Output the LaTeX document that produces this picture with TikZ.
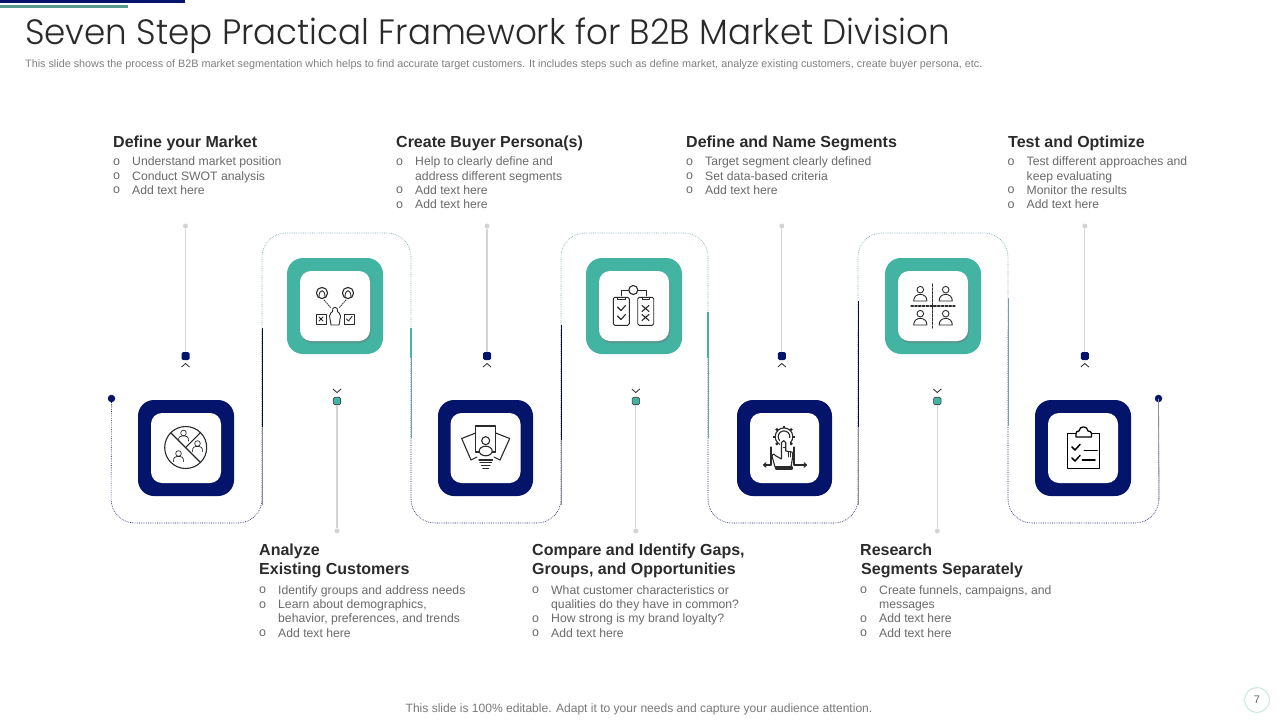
\documentclass[tikz,border=0pt]{standalone}
\usepackage{fontspec}
\setmainfont{Liberation Sans}
\newfontfamily\titlefont[FakeStretch=0.97]{Poppins Light}
\usetikzlibrary{shadows}
\definecolor{navy}{HTML}{04146B}
\definecolor{tealbox}{HTML}{43B3A2}
\definecolor{tealshade}{HTML}{5F8F88}
\definecolor{txt}{HTML}{6A6A6A}
\definecolor{head}{HTML}{2B2B2B}
\definecolor{stem}{HTML}{D4D4D4}
\definecolor{ink}{HTML}{2A2A2A}
\definecolor{upperline}{HTML}{6FA3A5}
\definecolor{grayline}{HTML}{8A8D96}
\tikzset{
  x=1pt,y=-1pt,
  navybox/.style={draw=none,fill=navy,rounded corners=16pt,minimum width=96pt,minimum height=96pt,inner sep=0pt},
  tealouter/.style={draw=none,fill=tealbox,rounded corners=16pt,minimum width=96pt,minimum height=96pt,inner sep=0pt},
  whitebox/.style={draw=none,fill=white,rounded corners=11pt,minimum width=70pt,minimum height=70pt,inner sep=0pt},
  whiteshade/.style={whitebox,drop shadow={shadow xshift=1pt,shadow yshift=-2pt,fill=tealshade,opacity=.8}},
  headline/.style={anchor=north west,inner sep=0pt,align=left,text=head,font=\fontsize{16}{19}\selectfont\bfseries},
  listblock/.style={anchor=north west,inner sep=0pt,text=txt,font=\fontsize{12.2}{14.3}\selectfont},
  stemline/.style={draw=stem,line width=1.1pt},
  stemend/.style={circle,fill=stem,draw=none,minimum size=5pt,inner sep=0pt},
  navysq/.style={rectangle,rounded corners=1.5pt,fill=navy,draw=none,minimum size=8pt,inner sep=0pt},
  tealsq/.style={rectangle,rounded corners=1.5pt,fill=tealbox,draw=black!80,line width=.6pt,minimum size=7.5pt,inner sep=0pt},
  enddot/.style={circle,fill=navy,draw=none,minimum size=7.5pt,inner sep=0pt},
  chev/.style={draw=ink,line width=.8pt},
  lowdot/.style={draw=navy!85!black,line width=.6pt,dash pattern=on .7pt off 1.1pt,rounded corners=24pt},
  updot/.style={draw=upperline,line width=.6pt,dash pattern=on .7pt off 1.1pt,rounded corners=24pt},
  solidnavy/.style={draw=navy!60!black,line width=1pt},
  solidgray/.style={draw=grayline,line width=.8pt},
  solidteal/.style={draw=upperline,line width=.8pt},
  solidtealb/.style={draw=tealbox,line width=1.4pt},
  ico/.style={draw=ink,line width=1.1pt,line join=round,line cap=round,fill=none},
  icofine/.style={draw=ink,line width=.9pt,line join=round,line cap=round,fill=none},
}
\newcommand{\bl}{\raisebox{.4pt}{\fontsize{12.5}{12}\selectfont o}}
\newenvironment{blist}{\begin{tabular}{@{}p{19pt}@{}l@{}}}{\end{tabular}}
\newcommand{\dome}[2]{\begin{scope}[shift={(#1,#2)}]
  \draw[icofine] (0,-6.3) circle (3.3);
  \draw[icofine] (-6.6,5) .. controls (-7,-3.8) and (7,-3.8) .. (6.6,5) -- cycle;
\end{scope}}
\newcommand{\bust}[2]{\begin{scope}[shift={(#1,#2)}]
  \draw[icofine,line width=.7pt] (0,-3) circle (2.8);
  \draw[icofine,line width=.7pt] (-5,5) .. controls (-5,0) and (-3,.5) .. (-1.5,0) -- (1.5,0) .. controls (3,.5) and (5,0) .. (5,5);
\end{scope}}
\begin{document}
\begin{tikzpicture}
\useasboundingbox (0,0) rectangle (1280,720);
\fill[white] (0,0) rectangle (1280,720);
% top bars
\fill[navy] (0,0) rectangle (185,3);
\fill[tealshade!70!tealbox] (0,5) rectangle (128,7.5);
% title
\node[anchor=base west,inner sep=0pt,text=ink,font=\fontsize{35.2}{40}\titlefont] (title) at (25,44) {Seven Step Practical Framework for B2B Market Division};
\node[anchor=base west,inner sep=0pt,text=txt!85,font=\fontsize{10.8}{12}\selectfont] (sub) at (25,67.5) {This slide shows the process of  B2B market segmentation which helps to find accurate target customers. It includes steps such as define market,  analyze existing customers, create buyer persona, etc.};
% footer
\node[anchor=base,inner sep=0pt,text=txt!90,font=\fontsize{12.05}{14}\selectfont] (foot) at (639,712.5) {This slide is 100\% editable. Adapt it to your  needs and capture your audience attention.};
\node[circle,draw=tealbox!30,line width=1pt,minimum size=25pt,inner sep=0pt,text=txt,font=\fontsize{11}{12}\selectfont] (pg) at (1257,700) {7};

% serpentine track
\node[enddot] (startdot) at (111.5,398.5) {};
\node[enddot] (enddot) at (1158.5,398.5) {};
\coordinate (b1a) at (111,523); \coordinate (b1b) at (262,523);
\coordinate (j1) at (262,330);
\coordinate (t1a) at (262,233); \coordinate (t1b) at (411,233);
\coordinate (j2) at (411,330);
\coordinate (b2a) at (411,523); \coordinate (b2b) at (561,523);
\coordinate (j3) at (561,330);
\coordinate (t2a) at (561,233); \coordinate (t2b) at (708,233);
\coordinate (j4) at (708,330);
\coordinate (b3a) at (708,523); \coordinate (b3b) at (858,523);
\coordinate (j5) at (858,330);
\coordinate (t3a) at (858,233); \coordinate (t3b) at (1008,233);
\coordinate (j6) at (1008,330);
\coordinate (b4a) at (1008,523); \coordinate (b4b) at (1159,523);
\draw[lowdot] (startdot.center) -- (b1a) -- (b1b) -- (j1);
\draw[updot] (j1) -- (t1a) -- (t1b) -- (j2);
\draw[lowdot] (j2) -- (b2a) -- (b2b) -- (j3);
\draw[updot] (j3) -- (t2a) -- (t2b) -- (j4);
\draw[lowdot] (j4) -- (b3a) -- (b3b) -- (j5);
\draw[updot] (j5) -- (t3a) -- (t3b) -- (j6);
\draw[lowdot] (j6) -- (b4a) -- (b4b) -- (enddot.center);
% solid overlays
\coordinate (s1) at (262,328); \coordinate (s2) at (262,427); \coordinate (s3) at (262,505);
\draw[solidnavy] (s1) -- (s2); \draw[solidgray] (s2) -- (s3);
\coordinate (s4) at (411,328); \coordinate (s5) at (411,358); \coordinate (s6) at (411,438);
\draw[solidtealb] (s4) -- (s5); \draw[solidteal] (s5) -- (s6);
\coordinate (s7) at (561,325); \coordinate (s8) at (561,440); \coordinate (s9) at (561,505);
\draw[solidnavy] (s7) -- (s8); \draw[solidgray] (s8) -- (s9);
\coordinate (s10) at (708,312); \coordinate (s11) at (708,358); \coordinate (s12) at (708,438);
\draw[solidtealb] (s10) -- (s11); \draw[solidteal] (s11) -- (s12);
\coordinate (s13) at (858,301); \coordinate (s14) at (858,427); \coordinate (s15) at (858,505);
\draw[solidnavy] (s13) -- (s14); \draw[solidgray] (s14) -- (s15);
\coordinate (s16) at (1008,298); \coordinate (s17) at (1008,426);
\draw[solidteal] (s16) -- (s17);
\coordinate (s18) at (1159,500);
\draw[solidgray] (enddot.center) -- (s18);

% stems up
\node[stemend] (u1e) at (185.5,226) {}; \node[navysq] (u1s) at (185.5,356) {};
\node[stemend] (u2e) at (487,226) {}; \node[navysq] (u2s) at (487,356) {};
\node[stemend] (u3e) at (781.8,226) {}; \node[navysq] (u3s) at (781.8,356) {};
\node[stemend] (u4e) at (1084.8,226) {}; \node[navysq] (u4s) at (1084.8,356) {};
\draw[stemline] (u1e) -- (u1s); \draw[stemline] (u2e) -- (u2s); \draw[stemline] (u3e) -- (u3s); \draw[stemline] (u4e) -- (u4s);
\foreach \n in {u1s,u2s,u3s,u4s}{ \draw[chev] ([xshift=-4pt,yshift=-11pt]\n.center) -- ([yshift=-7.5pt]\n.center) -- ([xshift=4pt,yshift=-11pt]\n.center); }
% stems down
\node[stemend] (d1e) at (337,531) {}; \node[tealsq] (d1s) at (337,401) {};
\node[stemend] (d2e) at (635.8,531) {}; \node[tealsq] (d2s) at (635.8,401) {};
\node[stemend] (d3e) at (937.3,531) {}; \node[tealsq] (d3s) at (937.3,401) {};
\draw[stemline] (d1e) -- (d1s); \draw[stemline] (d2e) -- (d2s); \draw[stemline] (d3e) -- (d3s);
\foreach \n in {d1s,d2s,d3s}{ \draw[chev] ([xshift=-4pt,yshift=12pt]\n.center) -- ([yshift=8.5pt]\n.center) -- ([xshift=4pt,yshift=12pt]\n.center); }

% boxes
\node[navybox] (n1) at (186,448) {}; \node[whitebox] (w1) at (186,448) {};
\node[tealouter] (n2) at (335,306) {}; \node[whiteshade] (w2) at (335,306) {};
\node[navybox,minimum width=95pt] (n3) at (485.5,448) {}; \node[whitebox] (w3) at (485.5,448) {};
\node[tealouter] (n4) at (634,306) {}; \node[whiteshade] (w4) at (634,306) {};
\node[navybox,minimum width=95pt] (n5) at (784.5,448) {}; \node[whitebox,minimum width=69pt] (w5) at (784.5,448) {};
\node[tealouter] (n6) at (933,306) {}; \node[whiteshade] (w6) at (933,306) {};
\node[navybox] (n7) at (1083,448) {}; \node[whitebox] (w7) at (1083,448) {};

% icon 1
\draw[ico] (185.7,447.5) circle (21);
\draw[ico] (171,433) -- (200.5,462.5);
\draw[ico] (185.7,447.5) -- (200.5,432.5);
\bust{183.5}{436}\bust{197.5}{446.5}\bust{178.5}{456.5}
% icon 2
\draw[ico] (322,293) circle (5.6); \draw[ico] (348,293) circle (5.6);
\draw[icofine] (319,297) .. controls (319,288.5) and (325,288.5) .. (325,297);
\draw[icofine] (345,297) .. controls (345,288.5) and (351,288.5) .. (351,297);
\draw[icofine,dash pattern=on 1pt off 1.2pt] (324,300) -- (331,308); \draw[icofine,dash pattern=on 1pt off 1.2pt] (346,300) -- (339,308);
\draw[icofine] (331,325) -- (329.5,316) .. controls (329.5,313) and (332,312.5) .. (332.5,311.5) .. controls (331,306) and (339,306) .. (337.5,311.5) .. controls (338,312.5) and (340.5,313) .. (340.5,316) -- (339,325) -- cycle;
\draw[icofine] (316,314) rectangle (326,324); \draw[icofine] (344,314) rectangle (354,324);
\draw[icofine] (319,317) -- (323,321) (323,317) -- (319,321);
\draw[icofine] (346.5,319) -- (348.5,321) -- (352,316.5);
% icon 3
\draw[ico] (475.7,426) rectangle (495.7,452);
\draw[ico] (475.7,433) -- (461.7,438.5) -- (471,460) -- (477,457);
\draw[ico] (495.7,433) -- (509.7,438.5) -- (500,460) -- (494,457);
\draw[ico] (485.7,440.7) circle (4);
\draw[ico,fill=white] (485.7,451) ellipse (6.5 and 4.8);
\draw[ico] (479,460) -- (492.5,460); \draw[ico] (480,462.5) -- (491.5,462.5); \draw[ico] (481.5,465.2) -- (490,465.2); \draw[ico] (483,468.3) -- (488.5,468.3);
% icon 4
\draw[ico] (633.3,290) circle (4.5);
\draw[icofine] (621.3,296) -- (621.3,290) -- (628.8,290) (637.8,290) -- (646,290) -- (646,296);
\draw[icofine,rounded corners=1.5pt] (613.3,297.3) rectangle (629.3,325.3);
\draw[icofine,rounded corners=1.5pt] (637.7,297.3) rectangle (653.7,325.3);
\draw[icofine] (617.5,297.3) -- (617.5,299.5) -- (625,299.5) -- (625,297.3);
\draw[icofine] (642,297.3) -- (642,299.5) -- (649.5,299.5) -- (649.5,297.3);
\draw[ico] (617.5,307) -- (621,310.5) -- (625.5,305.5);
\draw[ico] (617.5,316) -- (621,319.5) -- (625.5,314.5);
\draw[ico] (642,305.5) -- (649,311.5) (649,305.5) -- (642,311.5);
\draw[ico] (642,314.5) -- (649,320.5) (649,314.5) -- (642,320.5);
% icon 5
\foreach \a in {0,45,...,315}{ \draw[ico,line width=2.4pt,line cap=butt] (784,436.7) ++(\a:8.6) -- ++(\a:2.6); }
\draw[ico] (784,436.7) circle (8.8);
\draw[ico] (784,436.7) circle (5.8);
\draw[draw=white,fill=white] (780,438) rectangle (789,446);
\draw[ico] (775,467) -- (772,456) .. controls (773,453) and (775,454) .. (776,456) -- (781.5,459) -- (781.5,442.5) .. controls (782,440) and (785.5,440) .. (785.7,442.5) -- (785.7,451) -- (792,452) .. controls (793,452) and (793,455) .. (792.5,458) -- (791,467) -- cycle;
\draw[icofine] (788,451.5) -- (788,457) (790.5,452) -- (790.5,457);
\draw[ico,fill=ink!60] (776,467) rectangle (792,469);
\draw[ico] (771,447) -- (771,465) -- (764,465);
\draw[ico] (794,447) -- (794,465) -- (806,465);
\draw[ico] (766,462.8) -- (763.5,465) -- (766,467.2);
\draw[ico] (804,462.8) -- (806.5,465) -- (804,467.2);
% icon 6
\draw[icofine,dash pattern=on 2.4pt off 1.4pt,line width=1.1pt] (932.7,284) -- (932.7,328);
\draw[icofine,dash pattern=on 2.4pt off 1.4pt,line width=1.1pt] (911,306) -- (955,306);
\fill[ink] (932.7,306) circle (1.4);
\dome{920.3}{296}\dome{945.7}{296}\dome{920.3}{320}\dome{945.7}{320}
% icon 7
\draw[ico,line width=1.5pt,draw=black] (1067.3,433.5) rectangle (1099.7,468.3);
\draw[ico,line width=1.3pt,draw=black,fill=white] (1076,437) -- (1076,433.5) .. controls (1076,431.5) and (1077.5,431) .. (1079,431) .. controls (1079.5,425.5) and (1087.5,425.5) .. (1088,431) .. controls (1090,431) and (1091.5,432) .. (1091.5,433.5) -- (1091.5,437) -- cycle;
\draw[ico,line width=1.5pt,draw=black] (1072,447) -- (1075,450) -- (1080,444.5);
\draw[ico,line width=1.5pt,draw=black] (1072,458) -- (1075,461) -- (1080,455.5);
\draw[ico,line width=1.5pt,draw=black] (1084.3,450.7) -- (1097.3,450.7);
\draw[ico,line width=1.5pt,draw=black] (1082.3,460) -- (1095,460);

% upper labels
\node[headline] (h1) at (113,136) {Define your Market};
\node[listblock] (l1) at (113,155.5) {\begin{blist}\bl & Understand market position\\ \bl & Conduct SWOT analysis\\ \bl & Add text here\end{blist}};
\node[headline] (h2) at (396,136) {Create Buyer Persona(s)};
\node[listblock] (l2) at (396,155.5) {\begin{blist}\bl & Help to clearly define and\\ & address different segments\\ \bl & Add text here\\ \bl & Add text here\end{blist}};
\node[headline] (h3) at (686,136) {Define and Name Segments};
\node[listblock] (l3) at (686,155.5) {\begin{blist}\bl & Target segment clearly defined\\ \bl & Set data-based criteria\\ \bl & Add text here\end{blist}};
\node[headline] (h4) at (1008,136) {Test and Optimize};
\node[listblock] (l4) at (1007.5,155.5) {\begin{blist}\bl & Test different approaches and\\ & keep evaluating\\ \bl & Monitor the results\\ \bl & Add text here\end{blist}};
% lower labels
\node[headline] (h5) at (259,543.5) {Analyze\\Existing Customers};
\node[listblock] (l5) at (259,584) {\begin{blist}\bl & Identify groups and address needs\\ \bl & Learn about demographics,\\ & behavior, preferences, and trends\\ \bl & Add text here\end{blist}};
\node[headline] (h6) at (532,543.5) {Compare and Identify Gaps,\\Groups, and Opportunities};
\node[listblock] (l6) at (532,584) {\begin{blist}\bl & What customer characteristics or\\ & qualities do they have in common?\\ \bl & How strong is my brand loyalty?\\ \bl & Add text here\end{blist}};
\node[headline] (h7) at (860,543.5) {Research\\\hspace*{1pt}Segments Separately};
\node[listblock] (l7) at (860,584) {\begin{blist}\bl & Create funnels, campaigns, and\\ & messages\\ \bl & Add text here\\ \bl & Add text here\end{blist}};
\end{tikzpicture}
\end{document}
